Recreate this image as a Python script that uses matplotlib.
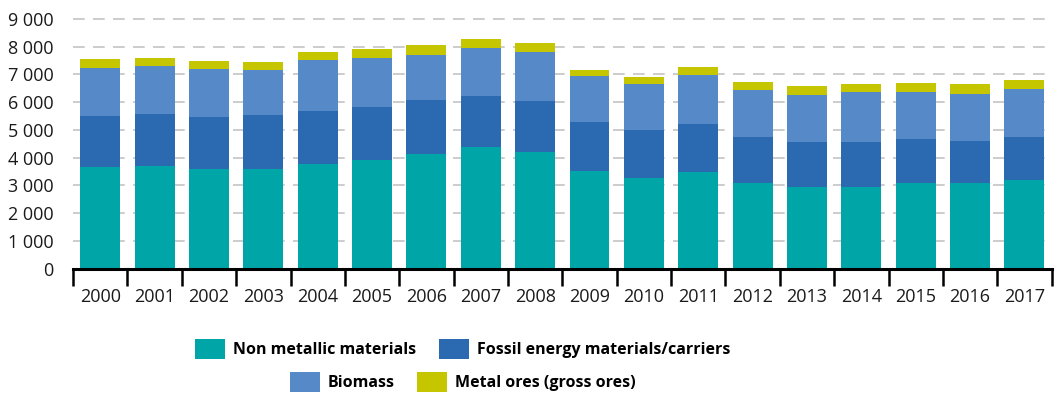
import matplotlib
matplotlib.use("Agg")
import matplotlib.pyplot as plt
from matplotlib.ticker import FuncFormatter, FixedLocator
import numpy as np

years = [str(y) for y in range(2000, 2018)]
# values (million tonnes)
non_metallic = [3650, 3690, 3580, 3610, 3760, 3900, 4120, 4370, 4190, 3510, 3260, 3470, 3080, 2930, 2930, 3080, 3080, 3180]
fossil = [1870, 1900, 1900, 1940, 1940, 1940, 1970, 1870, 1870, 1760, 1750, 1760, 1680, 1620, 1620, 1580, 1540, 1580]
biomass = [1720, 1720, 1730, 1620, 1830, 1760, 1620, 1720, 1760, 1680, 1630, 1760, 1690, 1720, 1830, 1720, 1690, 1730]
metal_ores = [320, 290, 280, 290, 290, 320, 360, 320, 320, 220, 280, 290, 290, 320, 290, 320, 360, 320]

series = [
    ("Non metallic materials", non_metallic, "#00a5a8"),
    ("Fossil energy materials/carriers", fossil, "#2b69b1"),
    ("Biomass", biomass, "#5589c8"),
    ("Metal ores (gross ores)", metal_ores, "#c5c500"),
]

plt.rcParams['font.family'] = ['Open Sans', 'DejaVu Sans']

fig = plt.figure(figsize=(10.59, 3.94), dpi=100)
ax = fig.add_axes([0.069, 0.318, 0.924, 0.636])

x = np.arange(len(years))
bottom = np.zeros(len(years))
handles = []
for name, vals, col in series:
    b = ax.bar(x, vals, width=0.735, bottom=bottom, color=col, label=name, zorder=3)
    handles.append(b)
    bottom += np.array(vals)

ax.set_xlim(-0.5, len(years) - 0.5)
ax.set_ylim(0, 9030)
ax.set_yticks(np.arange(0, 9001, 1000))
ax.yaxis.set_major_formatter(FuncFormatter(lambda v, p: f"{int(v):,}".replace(",", " ")))
ax.tick_params(axis='y', length=0, labelsize=13, pad=14, colors='#1a1a1a')
for yv in range(1000, 9001, 1000):
    ax.axhline(yv, color='#c4c4c4', lw=1.2, ls=(0, (7, 5)), zorder=1, clip_on=False)

ax.xaxis.set_major_locator(FixedLocator(np.arange(-0.5, len(years), 1.0)))
ax.xaxis.set_minor_locator(FixedLocator(x))
ax.set_xticklabels([], minor=False)
ax.set_xticklabels(years, minor=True)
ax.tick_params(axis='x', which='major', length=12, width=1.8, color='black', direction='out')
ax.tick_params(axis='x', which='minor', length=0, labelsize=13, pad=14, colors='#1a1a1a')

for s in ['top', 'right', 'left']:
    ax.spines[s].set_visible(False)
ax.spines['bottom'].set_linewidth(2.2)
ax.spines['bottom'].set_zorder(4)

common = dict(frameon=False, ncol=2,
              prop={'weight': 'bold', 'size': 11.5},
              handlelength=1.88, handleheight=1.5, handletextpad=0.5,
              columnspacing=1.4, borderpad=0, borderaxespad=0)
leg1 = fig.legend(handles[:2], [s[0] for s in series[:2]], loc='center',
                  bbox_to_anchor=(0.437, 0.114), **common)
leg2 = fig.legend(handles[2:], [s[0] for s in series[2:]], loc='center',
                  bbox_to_anchor=(0.437, 0.030), **common)

fig.savefig("out.png", dpi=100)
